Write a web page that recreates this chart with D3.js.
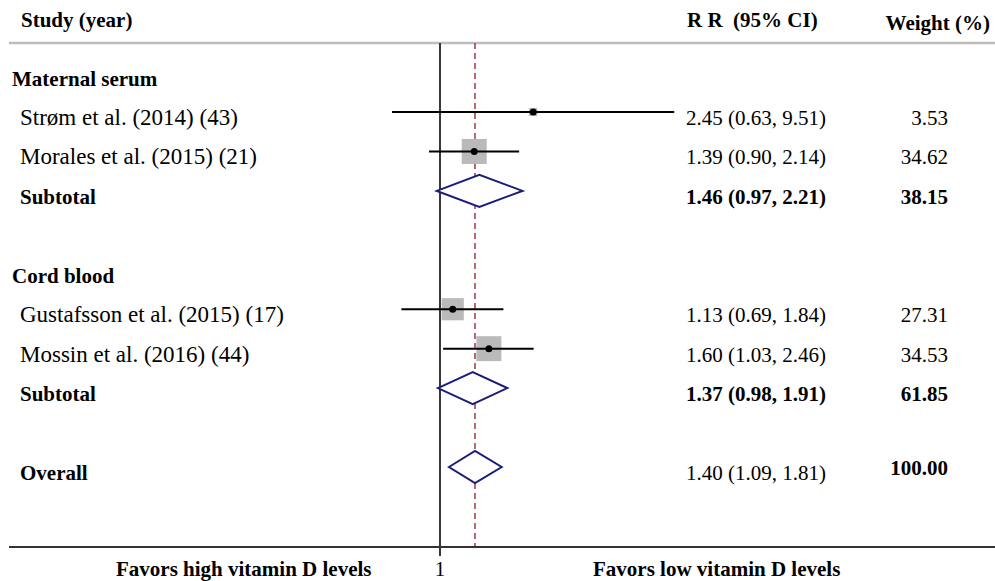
<!DOCTYPE html>
<html>
<head>
<meta charset="utf-8">
<script src="https://cdn.jsdelivr.net/npm/d3@7"></script>
<style>
  body { margin: 0; background: #fff; }
  svg text { font-family: "Liberation Serif", "Times New Roman", serif; fill: #000; }
</style>
</head>
<body>
<svg id="chart" width="995" height="581"></svg>
<script>
// study level data
var groups = ["Maternal serum", "Cord blood"];
var studies = ["Strøm et al. (2014) (43)", "Morales et al. (2015) (21)",
               "Gustafsson et al. (2015) (17)", "Mossin et al. (2016) (44)"];
var studyGroup = [0, 0, 1, 1];
var rr = [2.45, 1.39, 1.13, 1.60];
var lower = [0.63, 0.90, 0.69, 1.03];
var upper = [9.51, 2.14, 1.84, 2.46];
var weights = [3.53, 34.62, 27.31, 34.53];

// pooled estimates
var subRR = [1.46, 1.37];
var subLower = [0.97, 0.98];
var subUpper = [2.21, 1.91];
var subWeight = [38.15, 61.85];
var overall = {rr: 1.40, lower: 1.09, upper: 1.81, weight: 100.00};

var fmt = d3.format(".2f");
var svg = d3.select("#chart");

// build the row list
var rows = [];
groups.forEach(function(g, gi) {
  rows.push({type: "group", label: g});
  studies.forEach(function(s, i) {
    if (studyGroup[i] !== gi) return;
    rows.push({type: "study", label: s, rr: rr[i], lo: lower[i], hi: upper[i], w: weights[i]});
  });
  rows.push({type: "sub", label: "Subtotal", rr: subRR[gi], lo: subLower[gi], hi: subUpper[gi], w: subWeight[gi]});
  rows.push({type: "blank"});
});
rows.push({type: "overall", label: "Overall", rr: overall.rr, lo: overall.lower, hi: overall.upper, w: overall.weight});
rows.forEach(function(r, i) { r.idx = i; });

// scales
var x = d3.scaleLog().domain([0.5, 10]).range([440 - 104 * Math.log(2), 440 + 104 * Math.log(10)]);
var y = d3.scaleLinear().domain([1, 10]).range([112, 467]);
var boxSize = d3.scaleSqrt().domain([0, 34.62]).range([0, 25]);

var plotTop = 43, plotBottom = 547;

// header
svg.append("text").attr("x", 21).attr("y", 27).attr("font-size", 21).attr("font-weight", "bold").text("Study (year)");
svg.append("text").attr("x", 687).attr("y", 27).attr("font-size", 21).attr("font-weight", "bold")
  .attr("xml:space", "preserve").text("R R  (95% CI)");
svg.append("text").attr("x", 990).attr("y", 30).attr("font-size", 21).attr("font-weight", "bold")
  .attr("text-anchor", "end").text("Weight (%)");

svg.append("line").attr("x1", 9).attr("x2", 995).attr("y1", plotTop).attr("y2", plotTop)
  .attr("stroke", "#bdbdbd").attr("stroke-width", 2.5);

// null line and pooled estimate line
svg.append("line").attr("x1", x(1)).attr("x2", x(1)).attr("y1", plotTop).attr("y2", 556)
  .attr("stroke", "#222").attr("stroke-width", 1.8);
svg.append("line").attr("x1", x(overall.rr)).attr("x2", x(overall.rr)).attr("y1", plotTop).attr("y2", plotBottom)
  .attr("stroke", "#a5434f").attr("stroke-width", 1.6).attr("stroke-dasharray", "6,4");

svg.append("line").attr("x1", 9).attr("x2", 995).attr("y1", plotBottom).attr("y2", plotBottom)
  .attr("stroke", "#333").attr("stroke-width", 2);

// left labels
var labelRows = rows.filter(function(r) { return r.type !== "blank"; });
svg.selectAll(".lbl").data(labelRows).enter().append("text")
  .attr("class", "lbl")
  .attr("x", function(r) { return r.type === "group" ? 12 : 20; })
  .attr("y", function(r) { return y(r.idx) + 13; })
  .attr("font-size", function(r) { return r.type === "study" ? 23 : 21; })
  .attr("font-weight", function(r) { return r.type === "study" ? "normal" : "bold"; })
  .text(function(r) { return r.label; });

var est = rows.filter(function(r) { return r.rr !== undefined; });

// RR text
svg.selectAll(".rrtxt").data(est).enter().append("text")
  .attr("class", "rrtxt")
  .attr("x", 686)
  .attr("y", function(r) { return y(r.idx) + 13; })
  .attr("font-size", 21)
  .attr("font-weight", function(r) { return r.type === "sub" ? "bold" : "normal"; })
  .text(function(r) { return fmt(r.rr) + " (" + fmt(r.lo) + ", " + fmt(r.hi) + ")"; });

// weights
svg.selectAll(".wtxt").data(est).enter().append("text")
  .attr("class", "wtxt")
  .attr("x", 948)
  .attr("y", function(r) { return y(r.idx) + (r.type === "overall" ? 8 : 13); })
  .attr("text-anchor", "end")
  .attr("font-size", 21)
  .attr("font-weight", function(r) { return r.type === "study" ? "normal" : "bold"; })
  .text(function(r) { return fmt(r.w); });

// study boxes, CIs, points
var st = est.filter(function(r) { return r.type === "study"; });
svg.selectAll(".box").data(st).enter().append("rect")
  .attr("x", function(r) { return x(r.rr) - boxSize(r.w) / 2; })
  .attr("y", function(r) { return y(r.idx) - boxSize(r.w) / 2; })
  .attr("width", function(r) { return boxSize(r.w); })
  .attr("height", function(r) { return boxSize(r.w); })
  .attr("fill", "#bababa");
svg.selectAll(".ci").data(st).enter().append("line")
  .attr("x1", function(r) { return x(r.lo); })
  .attr("x2", function(r) { return x(r.hi); })
  .attr("y1", function(r) { return y(r.idx); })
  .attr("y2", function(r) { return y(r.idx); })
  .attr("stroke", "#000").attr("stroke-width", 2);
svg.selectAll(".pt").data(st).enter().append("circle")
  .attr("cx", function(r) { return x(r.rr); })
  .attr("cy", function(r) { return y(r.idx); })
  .attr("r", 3.5).attr("fill", "#000");

// diamonds
var pooled = est.filter(function(r) { return r.type !== "study"; });
svg.selectAll(".dia").data(pooled).enter().append("path")
  .attr("d", function(r) {
    var c = y(r.idx), h = 16;
    return "M" + x(r.lo) + "," + c + "L" + x(r.rr) + "," + (c - h) +
           "L" + x(r.hi) + "," + c + "L" + x(r.rr) + "," + (c + h) + "Z";
  })
  .attr("fill", "#fff").attr("stroke", "#1c1c78").attr("stroke-width", 2);

// bottom labels
svg.append("text").attr("x", 116).attr("y", 576).attr("font-size", 21).attr("font-weight", "bold")
  .text("Favors high vitamin D levels");
svg.append("text").attr("x", x(1)).attr("y", 576).attr("font-size", 21).attr("text-anchor", "middle").text("1");
svg.append("text").attr("x", 593).attr("y", 576).attr("font-size", 21).attr("font-weight", "bold")
  .text("Favors low vitamin D levels");
</script>
</body>
</html>
